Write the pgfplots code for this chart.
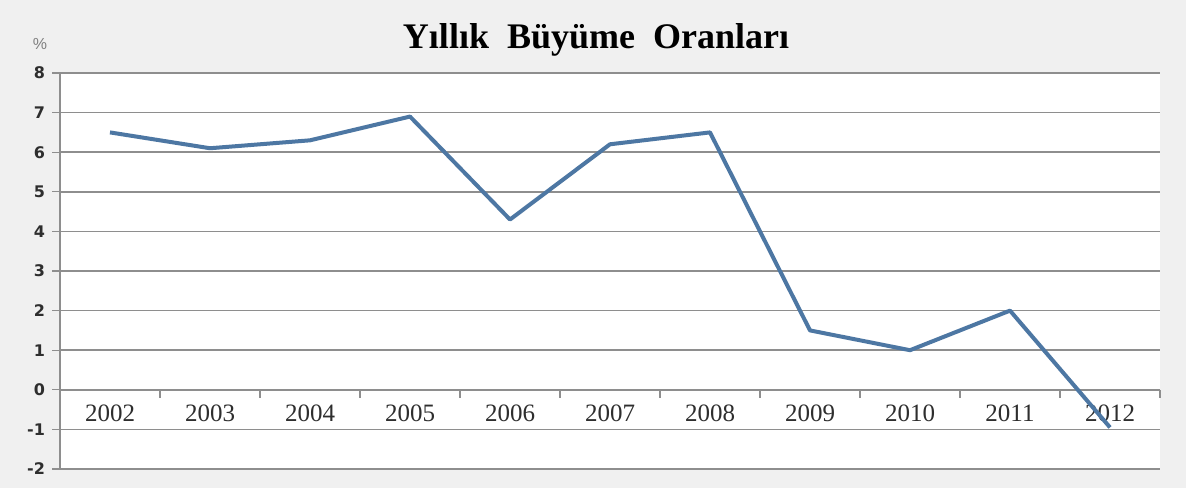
\documentclass[border=0pt]{standalone}
\usepackage{pgfplots}
\pgfplotsset{compat=1.18}
\usepackage{fontspec}
\setmainfont{Liberation Serif}
\newfontfamily\vfont{DejaVu Sans}
\newfontfamily\afont{Liberation Sans}
\definecolor{bggray}{HTML}{F0F0F0}
\definecolor{gridgray}{HTML}{8E8E8E}
\definecolor{lineblue}{HTML}{4D77A3}
\definecolor{labgray}{HTML}{2E2E2E}
\begin{document}
\begin{tikzpicture}[x=1pt,y=1pt]
\fill[bggray] (0,0) rectangle (593,244);
\useasboundingbox (0,0) rectangle (593,244);
\node[font=\bfseries\fontsize{18}{18}\selectfont] at (298,224) {\spaceskip=9pt Yıllık Büyüme Oranları};
\node[font=\afont\fontsize{8}{8}\selectfont, text=gray] at (20,222) {\%};
\begin{axis}[
 at={(30pt,9.5pt)}, anchor=south west,
 scale only axis, width=550pt, height=198pt,
 xmin=-0.5, xmax=10.5, ymin=-2, ymax=8,
 axis background/.style={fill=white},
 axis x line*=middle, axis y line*=left,
 hide obscured x ticks=false,
 axis line style={gridgray, line width=0.75pt, -},
 xtick={-0.5,0.5,...,10.5},
 x tick label as interval,
 xticklabels={2002,2003,2004,2005,2006,2007,2008,2009,2010,2011,2012},
 xticklabel style={font=\fontsize{12.5}{13}\selectfont, text=labgray},
 ytick={-2,-1,0,1,2,3,4,5,6,7,8},
 yticklabels={-2,-1,0,1,2,3,4,5,6,7,8},
 yticklabel style={font=\vfont\bfseries\fontsize{8}{8}\selectfont, text=labgray},
 tick align=outside,
 major tick length=4pt,
 tick style={gridgray, line width=0.6pt},
 ymajorgrids, grid style={gridgray, line width=0.75pt},
 clip=false,
]
\addplot[lineblue, line width=2pt, line join=round] coordinates {
 (0,6.5) (1,6.1) (2,6.3) (3,6.9) (4,4.3) (5,6.2) (6,6.5) (7,1.5) (8,1.0) (9,2.0) (10,-0.95)
};
\end{axis}
\end{tikzpicture}
\end{document}
